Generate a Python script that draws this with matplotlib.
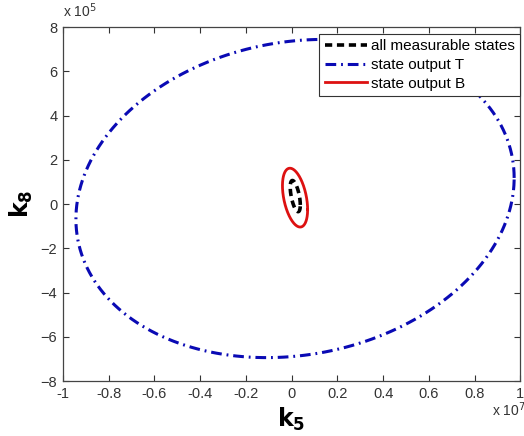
import numpy as np
import matplotlib
matplotlib.use("Agg")
import matplotlib.pyplot as plt

plt.rcParams['font.family'] = ['Liberation Sans', 'DejaVu Sans']

# Ellipse parameters (x in units of 1e7, y in units of 1e5)
# each: centre (cx, cy), x amplitude, y amplitude on cos, y amplitude on sin
names = ["all measurable states", "state output T", "state output B"]
centre_x = [0.016, 0.015, 0.015]
centre_y = [0.36, 0.25, 0.29]
amp_x = [0.022, 0.958, 0.055]
amp_y_cos = [-0.40, 0.93, -0.54]
amp_y_sin = [0.58, 7.13, 1.215]

colors = ["black", "#0a0ab4", "#dd1111"]
styles = [(0, (2.0, 1.3)), (0, (3.5, 1.6, 0.6, 1.6)), "-"]
widths = [2.6, 2.2, 2.0]

x_ticks = [-1, -0.8, -0.6, -0.4, -0.2, 0, 0.2, 0.4, 0.6, 0.8, 1]
y_ticks = [-8, -6, -4, -2, 0, 2, 4, 6, 8]

fig = plt.figure(figsize=(5.24, 4.36), dpi=100)
ax = fig.add_axes([0.120, 0.126, 0.873, 0.812])

t = np.linspace(0, 2 * np.pi, 400)
for i in range(3):
    xs = centre_x[i] + amp_x[i] * np.cos(t)
    ys = centre_y[i] + amp_y_cos[i] * np.cos(t) + amp_y_sin[i] * np.sin(t)
    ax.plot(xs, ys, color=colors[i], linestyle=styles[i], linewidth=widths[i],
            label=names[i])

ax.set_xlim(-1, 1)
ax.set_ylim(-8, 8)
ax.set_xticks(x_ticks)
ax.set_xticklabels([f"{v:g}" for v in x_ticks])
ax.set_yticks(y_ticks)
ax.tick_params(direction='in', top=True, right=True, length=4, width=0.8,
               labelsize=10.5, colors='#333333', pad=4)
for s in ax.spines.values():
    s.set_color('#444444')
    s.set_linewidth(0.9)

ax.set_xlabel(r'$\mathbf{k_5}$', fontsize=17, labelpad=4)
ax.set_ylabel(r'$\mathbf{k_8}$', fontsize=17, labelpad=4)

fig.text(0.121, 0.953, r'x 10$^{5}$', fontsize=10, color='#333333',
         ha='left', va='bottom')
fig.text(0.938, 0.04, r'x 10$^{7}$', fontsize=10, color='#333333',
         ha='left', va='bottom')

leg = ax.legend(loc='upper right', bbox_to_anchor=(1.0, 0.98), fontsize=11,
                fancybox=False, framealpha=1, edgecolor='#333333',
                handlelength=2.8, handletextpad=0.25, borderpad=0.35,
                labelspacing=0.3, borderaxespad=0)
leg.get_frame().set_linewidth(0.8)

fig.savefig("out.png", dpi=100)
